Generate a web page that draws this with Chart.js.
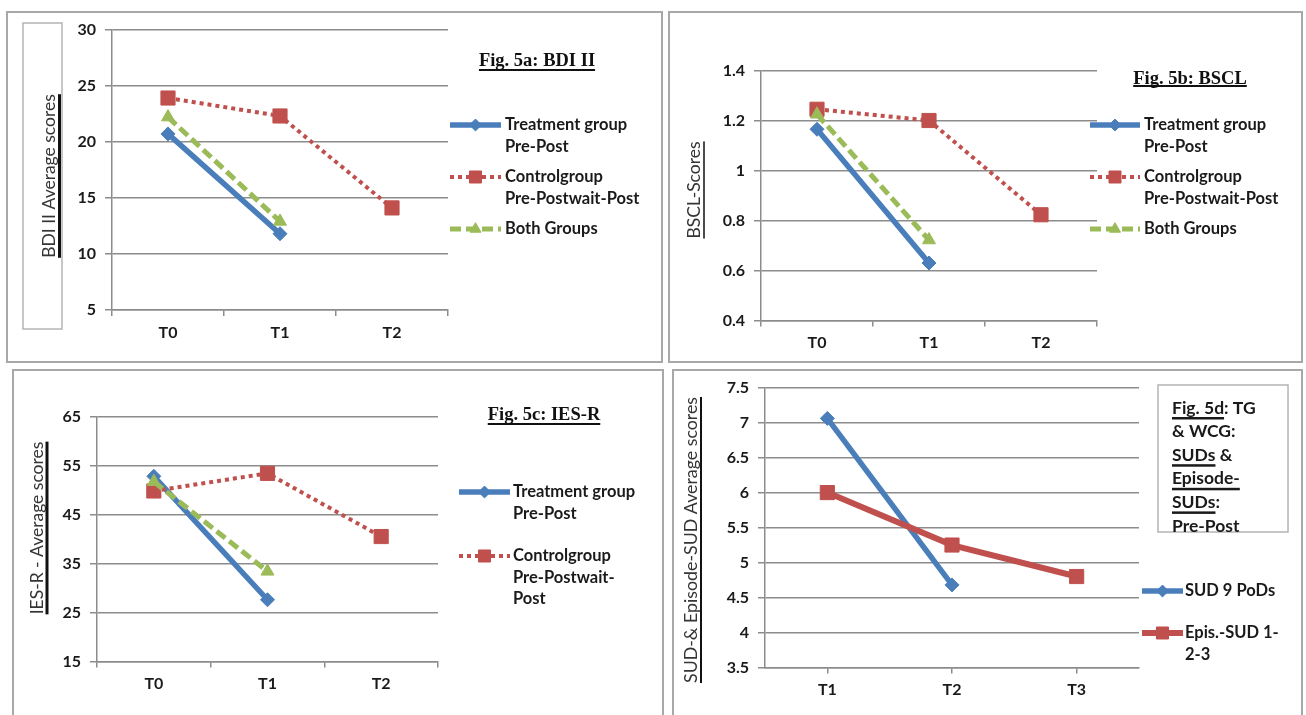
<!DOCTYPE html>
<html>
<head>
<meta charset="utf-8">
<title>Fig. 5</title>
<script src="https://cdn.jsdelivr.net/npm/chart.js@4.4.1/dist/chart.umd.min.js"></script>
<style>
  body { margin: 0; background: #fff; }
  canvas { position: absolute; }
  .frame { position: absolute; box-sizing: border-box; border: 2px solid #a8a8a8; pointer-events: none; }
</style>
</head>
<body>
<canvas id="bdi" width="657" height="352" style="left:6px;top:11px"></canvas>
<canvas id="bscl" width="635" height="352" style="left:668px;top:11px"></canvas>
<canvas id="ies" width="652" height="348" style="left:12px;top:369px"></canvas>
<canvas id="sud" width="631" height="348" style="left:672px;top:369px"></canvas>
<div class="frame" style="left:6px;top:11px;width:657px;height:352px"></div>
<div class="frame" style="left:668px;top:11px;width:635px;height:352px"></div>
<div class="frame" style="left:12px;top:369px;width:652px;height:348px"></div>
<div class="frame" style="left:672px;top:369px;width:631px;height:348px"></div>
<script>
// categories
var timesPre = ["T0", "T1", "T2"];
var timesSud = ["T1", "T2", "T3"];

// y tick labels
var bdiTicks = [5, 10, 15, 20, 25, 30];
var bsclTicks = [0.4, 0.6, 0.8, 1, 1.2, 1.4];
var iesTicks = [15, 25, 35, 45, 55, 65];
var sudTicks = [3.5, 4, 4.5, 5, 5.5, 6, 6.5, 7, 7.5];

// series values
var bdiTreatment = [20.7, 11.8];
var bdiControl = [23.9, 22.3, 14.1];
var bdiBoth = [22.2, 12.9];

var bsclTreatment = [1.165, 0.63];
var bsclControl = [1.245, 1.2, 0.823];
var bsclBoth = [1.225, 0.722];

var iesTreatment = [52.8, 27.6];
var iesControl = [49.8, 53.4, 40.5];
var iesBoth = [51.7, 33.4];

var sudPods = [7.06, 4.68];
var sudEpisode = [6.0, 5.25, 4.8];

// legend labels
var labelTreatment = ["Treatment group", "Pre-Post"];
var labelControl = ["Controlgroup", "Pre-Postwait-Post"];
var labelControlIes = ["Controlgroup", "Pre-Postwait-", "Post"];
var labelBoth = ["Both Groups"];
var labelPods = ["SUD 9 PoDs"];
var labelEpisode = ["Epis.-SUD 1-", "2-3"];

var FONT = "Lato, 'Open Sans', sans-serif";
var SERIF = "'Liberation Serif', 'DejaVu Serif', serif";
var INK = "#1a1a1a";
var GRID = "#8c8c8c";
var BLUE = "#4a7ebb";
var RED = "#c0504d";
var GREEN = "#9bbb59";

function treatment(label, data, width) {
  return { label: label, data: data, borderColor: BLUE, backgroundColor: BLUE, borderWidth: width || 5.5,
    pointStyle: "rectRot", pointRadius: 7, pointBackgroundColor: BLUE, pointBorderColor: BLUE,
    pointBorderWidth: 1, order: 2 };
}
function control(label, data, solid) {
  return { label: label, data: data, borderColor: RED, backgroundColor: RED,
    borderWidth: solid ? 6 : 4, borderDash: solid ? [] : [4, 4],
    pointStyle: "rect", pointRadius: 10, pointBackgroundColor: RED, pointBorderColor: RED,
    pointBorderWidth: 1, order: 1 };
}
function both(label, data) {
  return { label: label, data: data, borderColor: GREEN, backgroundColor: GREEN, borderWidth: 5,
    borderDash: [11, 5], pointStyle: "triangle", pointRadius: 7.5, pointBackgroundColor: GREEN,
    pointBorderColor: GREEN, pointBorderWidth: 1, order: 0 };
}

function drawSample(ctx, ds, x1, x2, y) {
  ctx.save();
  ctx.strokeStyle = ds.borderColor;
  ctx.lineWidth = ds.borderWidth;
  ctx.setLineDash(ds.borderDash || []);
  ctx.beginPath();
  ctx.moveTo(x1, y);
  ctx.lineTo(x2, y);
  ctx.stroke();
  ctx.setLineDash([]);
  ctx.fillStyle = ds.pointBackgroundColor;
  ctx.strokeStyle = ds.pointBorderColor;
  ctx.lineWidth = 1;
  Chart.helpers.drawPoint(ctx, { pointStyle: ds.pointStyle, rotation: 0, borderWidth: 1, radius: ds.pointRadius * 0.85 }, (x1 + x2) / 2, y);
  ctx.restore();
}

function decorPlugin(d) {
  return {
    id: "decor",
    afterDraw: function (chart) {
      var ctx = chart.ctx;
      ctx.save();
      ctx.translate(-d.origin[0], -d.origin[1]);

      if (d.yBox) {
        ctx.strokeStyle = "#b4b4b4";
        ctx.lineWidth = 1.5;
        ctx.strokeRect(d.yBox[0], d.yBox[1], d.yBox[2] - d.yBox[0], d.yBox[3] - d.yBox[1]);
      }

      // rotated axis title with underline
      var yt = d.yTitle;
      ctx.save();
      ctx.translate(yt.x, yt.y);
      ctx.rotate(-Math.PI / 2);
      ctx.font = yt.size + "px " + FONT;
      ctx.fillStyle = "#353535";
      ctx.textAlign = "center";
      ctx.textBaseline = "alphabetic";
      ctx.fillText(yt.text, 0, 0);
      var w = ctx.measureText(yt.text).width;
      ctx.fillStyle = "#111";
      ctx.fillRect(-w / 2, yt.ux - yt.x - yt.uw / 2, w, yt.uw);
      ctx.restore();

      // figure title
      if (d.title) {
        var t = d.title;
        ctx.font = "bold 18.5px " + SERIF;
        ctx.fillStyle = "#111";
        ctx.textAlign = "center";
        ctx.textBaseline = "middle";
        ctx.fillText(t.text, t.x, t.y);
        var tw = ctx.measureText(t.text).width;
        ctx.fillRect(t.x - tw / 2, t.uy - 1, tw, 2);
      }

      // boxed note (panel d)
      if (d.note) {
        var n = d.note;
        ctx.strokeStyle = "#b4b4b4";
        ctx.lineWidth = 1.5;
        ctx.strokeRect(n.box[0], n.box[1], n.box[2] - n.box[0], n.box[3] - n.box[1]);
        ctx.font = "bold 17.5px " + FONT;
        ctx.fillStyle = INK;
        ctx.textAlign = "left";
        ctx.textBaseline = "middle";
        n.lines.forEach(function (line, i) {
          var x = n.x, y = n.y + i * n.step;
          line.forEach(function (seg) {
            ctx.fillText(seg[0], x, y);
            var sw = ctx.measureText(seg[0]).width;
            if (seg[1]) ctx.fillRect(x, y + 9, sw, 2.5);
            x += sw;
          });
        });
      }

      // legend
      ctx.font = "bold 16.5px " + FONT;
      ctx.textAlign = "left";
      ctx.textBaseline = "middle";
      d.legend.forEach(function (item) {
        var ds = chart.data.datasets[item.ds];
        drawSample(ctx, ds, item.x1, item.x2, item.y);
        ctx.fillStyle = INK;
        ds.label.forEach(function (s, i) {
          ctx.fillText(s, item.tx, item.y + i * 21.5);
        });
      });
      ctx.restore();
    }
  };
}

function makeChart(id, labels, datasets, yTicks, pad, ticksOnLabels, decor) {
  var tickFont = { family: FONT, size: 16, weight: "bold" };
  return new Chart(document.getElementById(id), {
    type: "line",
    data: { labels: labels, datasets: datasets },
    options: {
      responsive: false,
      animation: false,
      events: [],
      layout: { padding: pad },
      plugins: { legend: { display: false }, tooltip: { enabled: false } },
      scales: {
        x: {
          offset: true,
          grid: { offset: !ticksOnLabels, drawOnChartArea: false, color: GRID, lineWidth: 1.5, tickLength: 6 },
          border: { color: GRID, width: 1.5 },
          ticks: { color: INK, font: tickFont, padding: 7, maxRotation: 0 },
          afterFit: function (s) { s.height = 35; }
        },
        y: {
          min: yTicks[0],
          max: yTicks[yTicks.length - 1],
          grid: { color: GRID, lineWidth: 1.5, tickLength: 7 },
          border: { color: GRID, width: 1.5 },
          ticks: {
            stepSize: yTicks[1] - yTicks[0],
            color: INK, font: tickFont, padding: 9,
            callback: function (v) { return String(+v.toFixed(2)); }
          },
          afterFit: function (s) { s.width = 40; }
        }
      }
    },
    plugins: [decorPlugin(decor)]
  });
}

makeChart("bdi", timesPre,
  [treatment(labelTreatment, bdiTreatment), control(labelControl, bdiControl), both(labelBoth, bdiBoth)],
  bdiTicks, { left: 66, right: 215, top: 18, bottom: 18 }, false,
  {
    origin: [6, 11],
    yBox: [23, 23, 62, 329],
    yTitle: { text: "BDI II Average scores", x: 55, y: 176, size: 17.5, ux: 59.5, uw: 3 },
    title: { text: "Fig. 5a: BDI II", x: 537, y: 61, uy: 70 },
    legend: [
      { ds: 0, x1: 450, x2: 501, tx: 505, y: 125 },
      { ds: 1, x1: 450, x2: 501, tx: 505, y: 177 },
      { ds: 2, x1: 450, x2: 501, tx: 505, y: 229 }
    ]
  });

makeChart("bscl", timesPre,
  [treatment(labelTreatment, bsclTreatment), control(labelControl, bsclControl), both(labelBoth, bsclBoth)],
  bsclTicks, { left: 53, right: 206, top: 59.5, bottom: 7.5 }, false,
  {
    origin: [668, 11],
    yTitle: { text: "BSCL-Scores", x: 700, y: 190, size: 17.5, ux: 704, uw: 1.5 },
    title: { text: "Fig. 5b: BSCL", x: 1190, y: 79, uy: 86 },
    legend: [
      { ds: 0, x1: 1090, x2: 1140, tx: 1144, y: 125 },
      { ds: 1, x1: 1090, x2: 1140, tx: 1144, y: 177 },
      { ds: 2, x1: 1090, x2: 1140, tx: 1144, y: 229 }
    ]
  });

makeChart("ies", timesPre,
  [treatment(labelTreatment, iesTreatment), control(labelControlIes, iesControl), both(labelBoth, iesBoth)],
  iesTicks, { left: 45, right: 226, top: 47.5, bottom: 20.5 }, false,
  {
    origin: [12, 369],
    yTitle: { text: "IES-R - Average scores", x: 43, y: 528, size: 17.5, ux: 47, uw: 3 },
    title: { text: "Fig. 5c: IES-R", x: 544, y: 415, uy: 424 },
    legend: [
      { ds: 0, x1: 459, x2: 510, tx: 513, y: 492 },
      { ds: 1, x1: 459, x2: 510, tx: 513, y: 556 }
    ]
  });

makeChart("sud", timesSud,
  [treatment(labelPods, sudPods, 5.5), control(labelEpisode, sudEpisode, true)],
  sudTicks, { left: 53, right: 164, top: 18.5, bottom: 14.5 }, true,
  {
    origin: [672, 369],
    yTitle: { text: "SUD-& Episode-SUD Average scores", x: 697, y: 540, size: 17.8, ux: 701, uw: 2 },
    note: {
      box: [1158, 385, 1288, 532], x: 1172, y: 408, step: 23.6,
      lines: [
        [["Fig. 5d", true], [": TG", false]],
        [["& WCG:", false]],
        [["SUDs", true], [" &", false]],
        [["Episode-", true]],
        [["SUDs", true], [":", false]],
        [["Pre-Post", false]]
      ]
    },
    legend: [
      { ds: 0, x1: 1142, x2: 1183, tx: 1185, y: 591 },
      { ds: 1, x1: 1142, x2: 1183, tx: 1185, y: 633 }
    ]
  });
</script>
</body>
</html>
